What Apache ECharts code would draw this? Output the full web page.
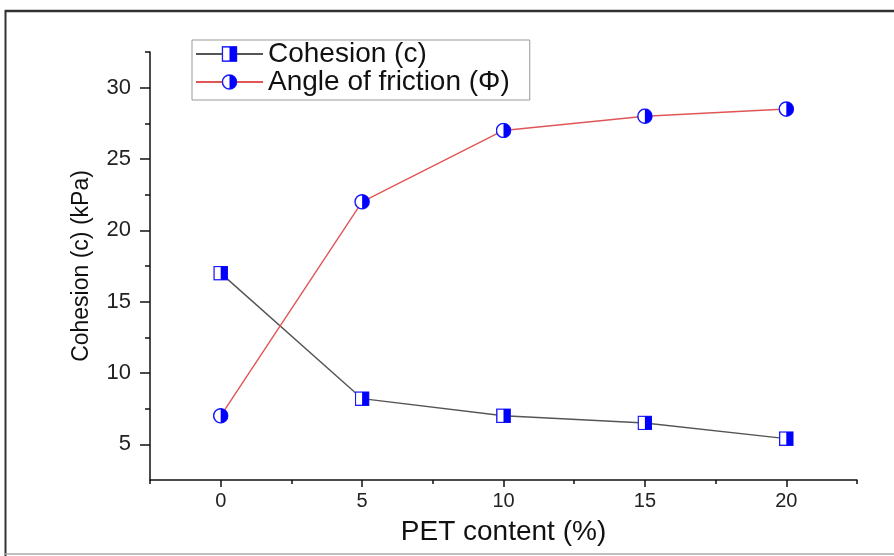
<!DOCTYPE html>
<html><head><meta charset="utf-8">
<script src="https://cdn.jsdelivr.net/npm/echarts@6/dist/echarts.min.js"></script>
<style>html,body{margin:0;padding:0;background:#fff}#c{width:894px;height:556px}</style>
</head><body><div id="c"></div>
<script>
const pet = [0, 5, 10, 15, 20];
const cohesion = [17, 8.2, 7.0, 6.5, 5.4];
const friction = [7, 22, 27, 28, 28.5];
const xMajor = [0, 5, 10, 15, 20];
const xMinor = [-2.5, 2.5, 7.5, 12.5, 17.5, 22.5];
const yMajor = [5, 10, 15, 20, 25, 30];
const yMinor = [7.5, 12.5, 17.5, 22.5, 27.5, 32.5];

const sq = 'image://data:image/svg+xml;utf8,' + encodeURIComponent(
 '<svg xmlns="http://www.w3.org/2000/svg" width="14" height="14" viewBox="0 0 14 14"><rect x="0.75" y="0.75" width="12.5" height="12.5" fill="#fff" stroke="#1a1aff" stroke-width="1.3"/><rect x="7" y="0.75" width="6.25" height="12.5" fill="#0000ff"/></svg>');
const ci = 'image://data:image/svg+xml;utf8,' + encodeURIComponent(
 '<svg xmlns="http://www.w3.org/2000/svg" width="14" height="14" viewBox="0 0 14 14"><circle cx="7" cy="7" r="6.2" fill="#fff" stroke="#1a1aff" stroke-width="1.3"/><path d="M7,0.8 A6.2,6.2 0 0 1 7,13.2 Z" fill="#0000ff"/></svg>');

const font = '"Liberation Sans", Arial, sans-serif';
const chart = echarts.init(document.getElementById('c'), null, {renderer: 'canvas'});
const axLine = {show: true, onZero: false, lineStyle: {color: '#111', width: 1.5}};
chart.setOption({
  animation: false,
  backgroundColor: '#fff',
  graphic: [
    {type: 'line', shape: {x1: 5, y1: 11, x2: 894, y2: 11}, style: {stroke: '#333', lineWidth: 2.5}},
    {type: 'line', shape: {x1: 5.5, y1: 10, x2: 5.5, y2: 556}, style: {stroke: '#333', lineWidth: 2}},
    {type: 'line', shape: {x1: 5, y1: 554, x2: 894, y2: 554}, style: {stroke: '#aaa', lineWidth: 1.5}}
  ],
  grid: {left: 150, top: 52, right: 37, bottom: 76},
  legend: {
    orient: 'vertical', left: 192, top: 40,
    borderColor: '#999', borderWidth: 1, padding: [0, 20, 4, 3],
    itemWidth: 67, itemHeight: 20, itemGap: 0,
    textStyle: {fontFamily: font, fontSize: 28, lineHeight: 28, color: '#111'},
    data: ['Cohesion (c)', 'Angle of friction (\u03A6)']
  },
  xAxis: [
    {type: 'value', min: -2.5, max: 22.5, splitLine: {show: false}, axisLine: axLine,
     name: 'PET content (%)', nameLocation: 'middle', nameGap: 38,
     nameTextStyle: {fontFamily: font, fontSize: 28, color: '#111'},
     axisTick: {show: true, customValues: xMajor, length: 7, lineStyle: {color: '#111', width: 1.5}},
     axisLabel: {customValues: xMajor, fontFamily: font, fontSize: 20, color: '#222', margin: 11}},
    {type: 'value', min: -2.5, max: 22.5, position: 'bottom', splitLine: {show: false}, axisLine: {show: false, onZero: false},
     axisTick: {show: true, customValues: xMinor, length: 4, lineStyle: {color: '#111', width: 1.5}},
     axisLabel: {show: false}}
  ],
  yAxis: [
    {type: 'value', min: 2.5, max: 32.5, splitLine: {show: false}, axisLine: axLine,
     name: 'Cohesion (c) (kPa)', nameLocation: 'middle', nameGap: 57,
     nameTextStyle: {fontFamily: font, fontSize: 23, color: '#111'},
     axisTick: {show: true, customValues: yMajor, length: 10, lineStyle: {color: '#111', width: 1.5}},
     axisLabel: {customValues: yMajor, fontFamily: font, fontSize: 22, color: '#222', margin: 19}},
    {type: 'value', min: 2.5, max: 32.5, position: 'left', splitLine: {show: false}, axisLine: {show: false, onZero: false},
     axisTick: {show: true, customValues: yMinor, length: 5, lineStyle: {color: '#111', width: 1.5}},
     axisLabel: {show: false}}
  ],
  series: [
    {name: 'Cohesion (c)', type: 'line', data: pet.map((x, i) => [x, cohesion[i]]),
     symbol: sq, symbolSize: 15, showAllSymbol: true,
     lineStyle: {color: '#555', width: 1.4}, itemStyle: {color: '#777'}},
    {name: 'Angle of friction (\u03A6)', type: 'line', data: pet.map((x, i) => [x, friction[i]]),
     symbol: ci, symbolSize: 16, showAllSymbol: true,
     lineStyle: {color: '#e05555', width: 1.4}, itemStyle: {color: '#e05555'}}
  ]
});
</script></body></html>
